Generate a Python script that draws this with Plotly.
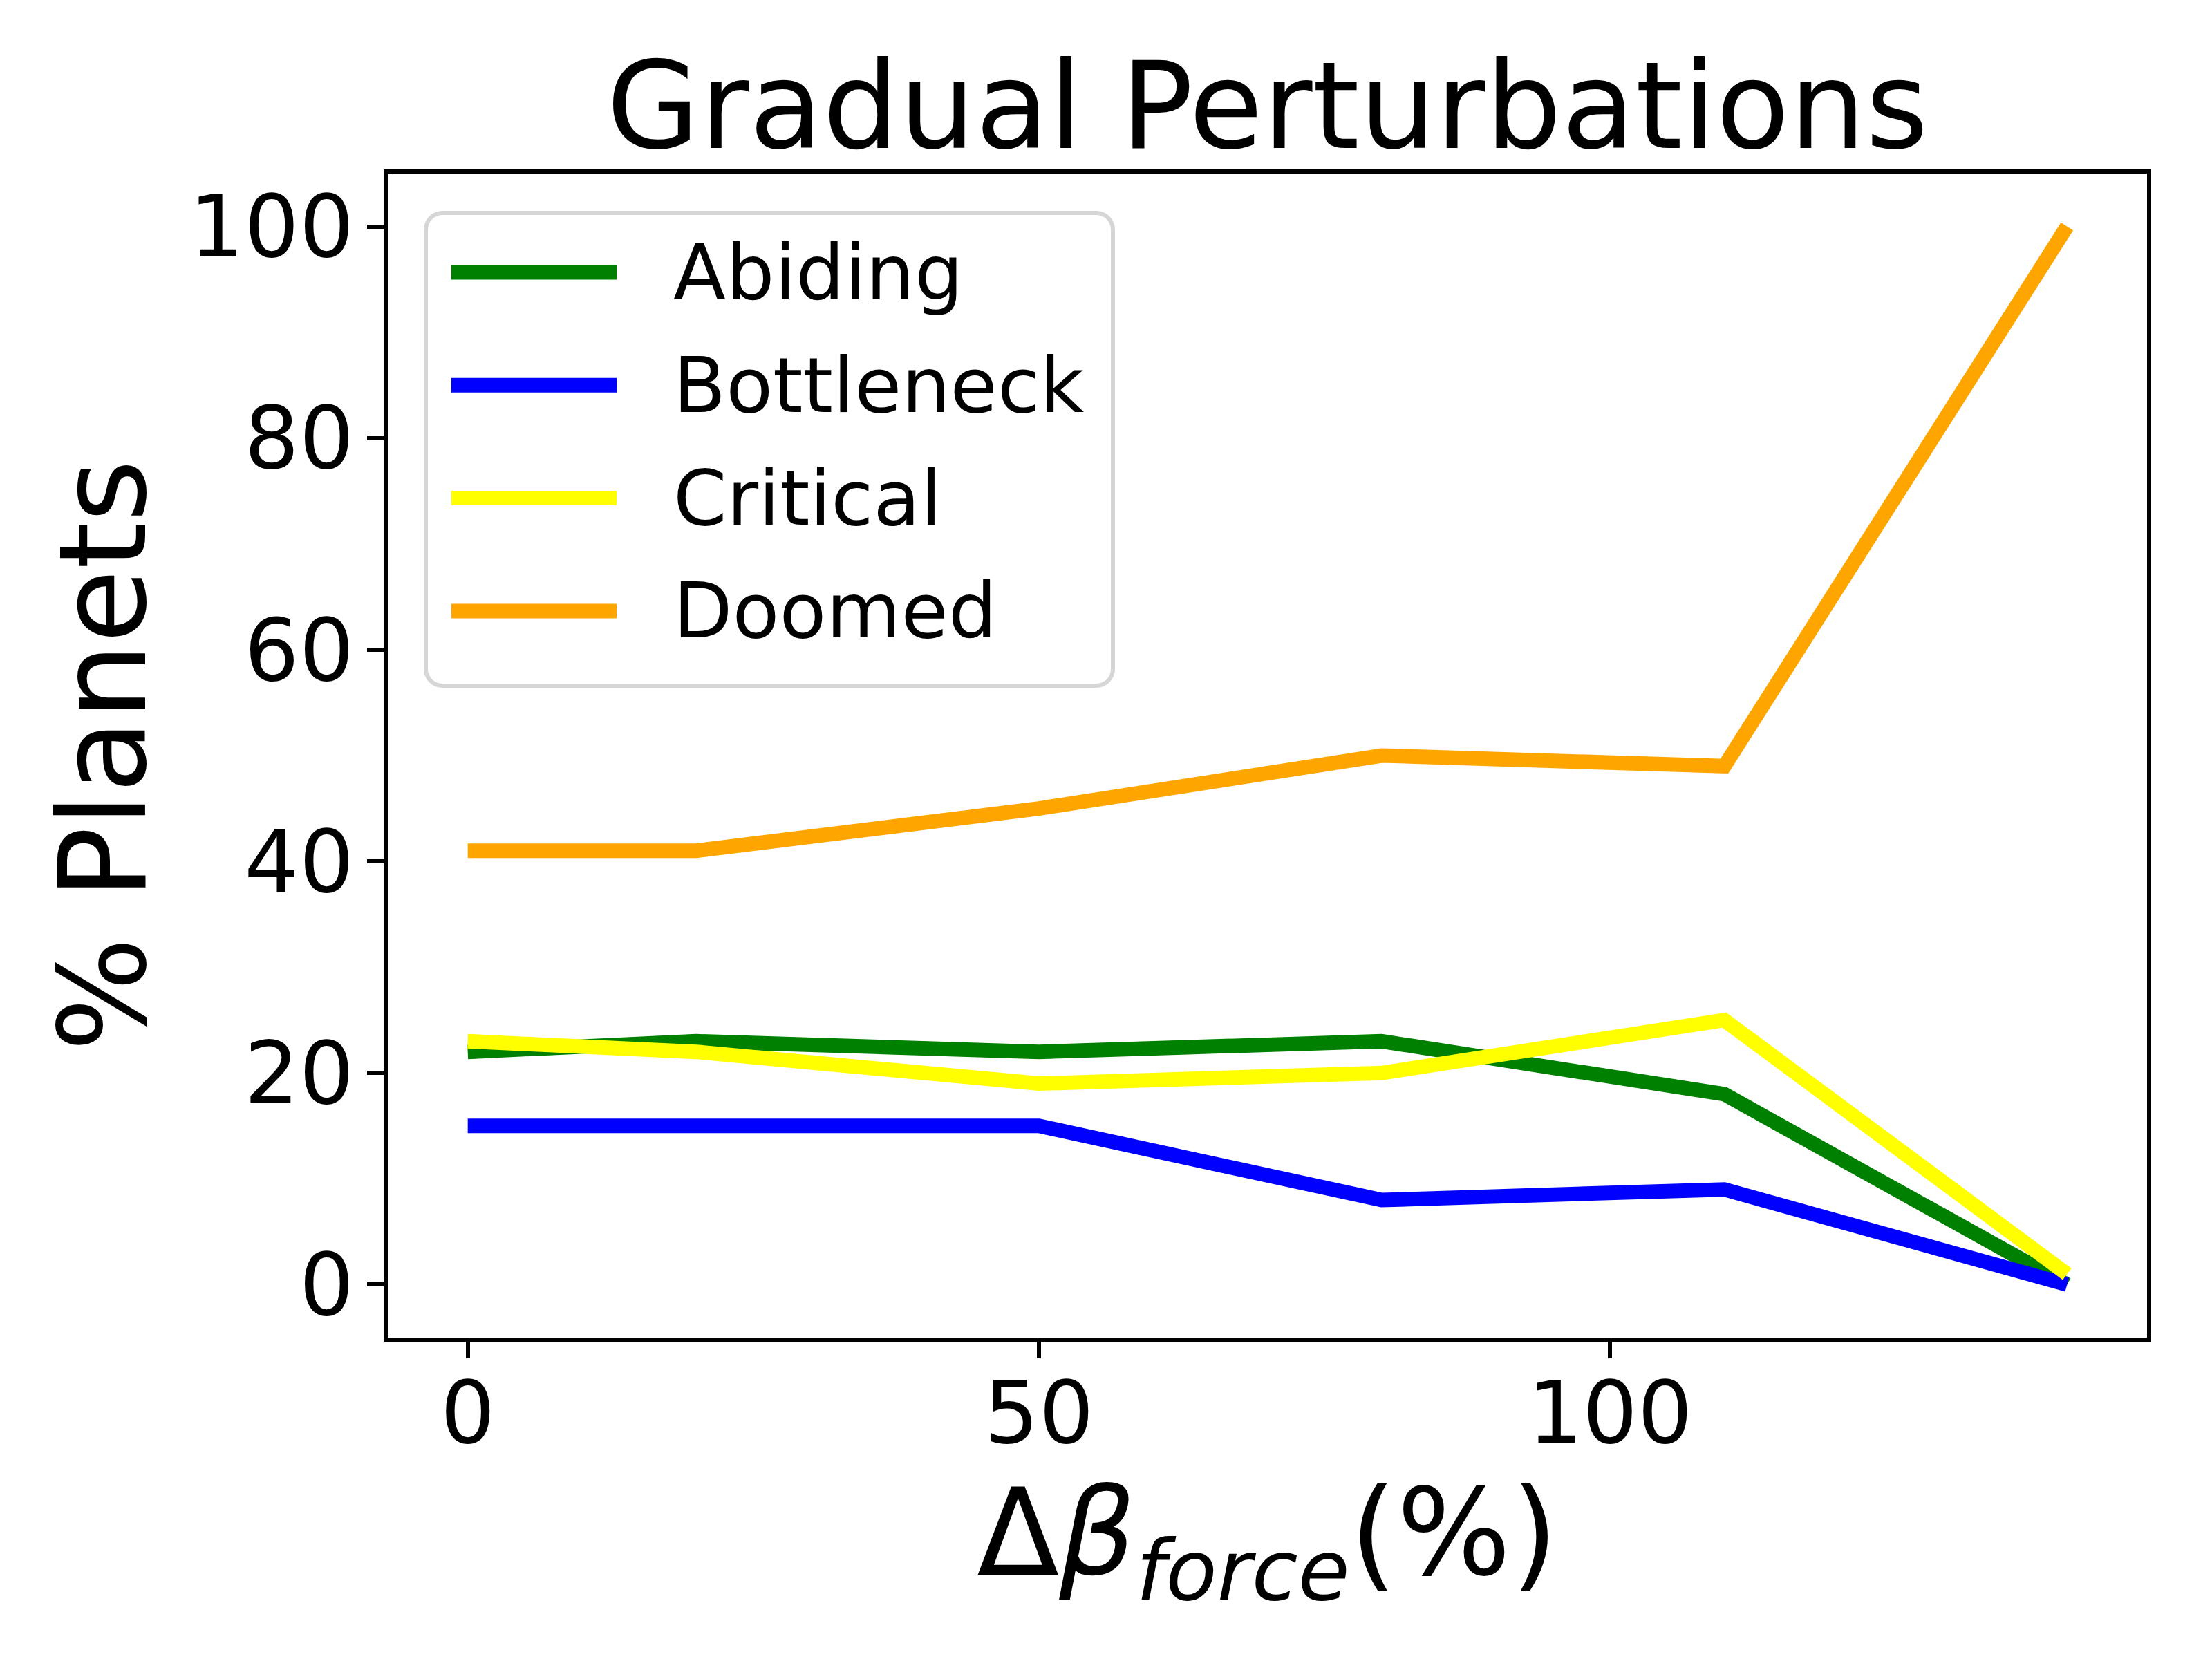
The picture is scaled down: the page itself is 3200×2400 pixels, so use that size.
import math
import plotly.graph_objects as go

# ---- data ----
x_vals = [0, 20, 50, 80, 110, 140]
series_names = ["Abiding", "Bottleneck", "Critical", "Doomed"]
abiding = [22, 23, 22, 23, 18, 0]
bottleneck = [15, 15, 15, 8, 9, 0]
critical = [23, 22, 19, 20, 25, 1]
doomed = [41, 41, 45, 50, 49, 100]
colors = ["#008000", "#0000ff", "#ffff00", "#ffa500"]
x_ticks = [0, 50, 100]
y_ticks = [0, 20, 40, 60, 80, 100]

W, H = 3200, 2400
L, R, T, B = 561, 94, 251, 465
PW, PH = W - L - R, H - T - B
FONT = "DejaVu Sans"
LW = 21
TICK_FS = 125
LABEL_FS = 174
LEG_FS = 111

fig = go.Figure()
for name, ys, c in zip(series_names, [abiding, bottleneck, critical, doomed], colors):
    fig.add_trace(go.Scatter(x=x_vals, y=ys, mode="lines", name=name,
                             line=dict(color=c, width=LW), showlegend=False))


def px2paper_x(px):
    return (px - L) / PW


def px2paper_y(py):
    return (H - B - py) / PH


# manual legend (matplotlib-like frame)
bx0, bx1, by0, by1 = 616, 1610, 308, 992
rad = 24


def rr_path(x0, y0, x1, y1, r):
    def P(x, y):
        return f"{px2paper_x(x):.5f},{px2paper_y(y):.5f}"
    segs = ["M" + P(x0 + r, y0), "L" + P(x1 - r, y0)]
    corners = [(x1 - r, y0 + r, -math.pi / 2), (x1 - r, y1 - r, 0.0),
               (x0 + r, y1 - r, math.pi / 2), (x0 + r, y0 + r, math.pi)]
    nexts = [(x1, y1 - r), (x0 + r, y1), (x0, y0 + r), None]
    for (cx, cy, a0), nxt in zip(corners, nexts):
        for k in range(1, 9):
            a = a0 + k * (math.pi / 2) / 8
            segs.append("L" + P(cx + r * math.cos(a), cy + r * math.sin(a)))
        if nxt:
            segs.append("L" + P(*nxt))
    segs.append("Z")
    return " ".join(segs)


shapes = [dict(type="path", xref="paper", yref="paper",
               path=rr_path(bx0, by0, bx1, by1, rad),
               line=dict(color="#d6d6d6", width=6), fillcolor="rgba(255,255,255,0.8)")]
annotations = []
row0, dy = 394, 163.3
for i, (name, c) in enumerate(zip(series_names, colors)):
    yy = row0 + i * dy
    shapes.append(dict(type="line", xref="paper", yref="paper",
                       x0=px2paper_x(653), x1=px2paper_x(892),
                       y0=px2paper_y(yy), y1=px2paper_y(yy),
                       line=dict(color=c, width=LW)))
    annotations.append(dict(xref="paper", yref="paper", x=px2paper_x(972), y=px2paper_y(yy),
                            text=name, showarrow=False, xanchor="left", yanchor="middle",
                            font=dict(family=FONT, size=LEG_FS, color="black")))

fig.update_layout(
    width=W, height=H,
    margin=dict(l=L, r=R, t=T, b=B),
    paper_bgcolor="white", plot_bgcolor="white",
    font=dict(family=FONT, color="black"),
    title=dict(text="Gradual Perturbations", x=(L + PW / 2) / W, xanchor="center",
               y=1 - 214 / H, yanchor="bottom", yref="container",
               font=dict(family=FONT, size=LABEL_FS, color="black")),
    shapes=shapes, annotations=annotations,
    showlegend=False,
)
fig.update_xaxes(range=[-7, 147], tickvals=x_ticks, ticktext=[str(v) for v in x_ticks],
                 showgrid=False, zeroline=False, showline=True, mirror=True,
                 linecolor="black", linewidth=5.5, ticks="outside", ticklen=24, tickwidth=5.5,
                 tickcolor="black", tickfont=dict(family=FONT, size=TICK_FS, color="black"),
                 ticklabelstandoff=-28,
                 title=dict(text="Δ<i>β</i><sub><i>force</i></sub>(%)",
                            font=dict(family=FONT, size=LABEL_FS, color="black"), standoff=40))
fig.update_yaxes(range=[-5, 105], tickvals=y_ticks, ticktext=[str(v) for v in y_ticks],
                 showgrid=False, zeroline=False, showline=True, mirror=True,
                 linecolor="black", linewidth=5.5, ticks="outside", ticklen=24, tickwidth=5.5,
                 tickcolor="black", tickfont=dict(family=FONT, size=TICK_FS, color="black"),
                 ticklabelstandoff=-6,
                 title=dict(text="% Planets", font=dict(family=FONT, size=LABEL_FS, color="black"),
                            standoff=6))

fig.write_html("out.html")
